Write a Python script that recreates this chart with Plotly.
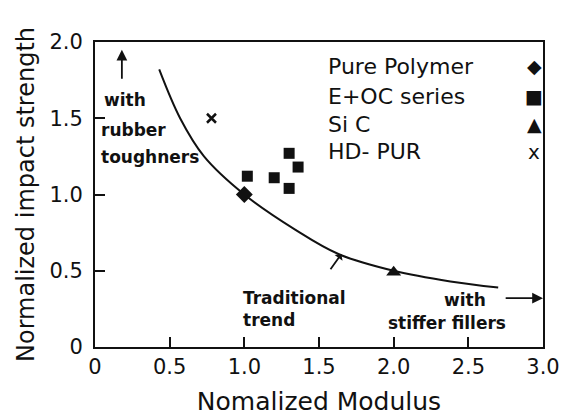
import plotly.graph_objects as go

# data
pure_x = [1.0]
pure_y = [1.0]

eoc_x = [1.02, 1.2, 1.3, 1.36, 1.3]
eoc_y = [1.12, 1.11, 1.27, 1.18, 1.04]

sic_x = [2.0]
sic_y = [0.49]

hdpur_x = [0.78]
hdpur_y = [1.5]

# traditional trend curve
trend_x = [0.43, 0.57, 0.73, 1.0, 1.34, 1.63, 2.0, 2.38, 2.7]
trend_y = [1.82, 1.5, 1.25, 1.0, 0.77, 0.61, 0.5, 0.43, 0.39]

legend_names = ["Pure Polymer", "E+OC series", "Si C", "HD- PUR"]
legend_glyphs = ["◆", "■", "▲", "x"]
legend_rows = [1.84, 1.645, 1.46, 1.28]

tick_vals = [0, 0.5, 1.0, 1.5, 2.0, 2.5, 3.0]
tick_text = ["0", "0.5", "1.0", "1.5", "2.0", "2.5", "3.0"]
ytick_vals = [0, 0.5, 1.0, 1.5, 2.0]
ytick_text = ["0", "0.5", "1.0", "1.5", "2.0"]

FONT = "DejaVu Sans"
INK = "#111111"


def note(fig, x, y, text, anchor="left"):
    fig.add_annotation(x=x, y=y, text=text, showarrow=False, xanchor=anchor,
                       font=dict(family=FONT, size=17, color=INK, weight="bold"))


def arrow(fig, x0, y0, x1, y1, head=2, size=1.2):
    fig.add_annotation(x=x1, y=y1, ax=x0, ay=y0, xref="x", yref="y", axref="x", ayref="y",
                       text="", showarrow=True, arrowhead=head, arrowsize=size,
                       arrowwidth=1.8, arrowcolor=INK)


fig = go.Figure()

fig.add_trace(go.Scatter(x=trend_x, y=trend_y, mode="lines",
                         line=dict(color=INK, width=2, shape="spline", smoothing=1.0),
                         showlegend=False, hoverinfo="skip"))
fig.add_trace(go.Scatter(x=pure_x, y=pure_y, mode="markers", name="Pure Polymer",
                         marker=dict(symbol="diamond", size=13, color=INK)))
fig.add_trace(go.Scatter(x=eoc_x, y=eoc_y, mode="markers", name="E+OC series",
                         marker=dict(symbol="square", size=11, color=INK)))
fig.add_trace(go.Scatter(x=sic_x, y=sic_y, mode="markers", name="SiC",
                         marker=dict(symbol="triangle-up", size=13, color=INK)))
fig.add_trace(go.Scatter(x=hdpur_x, y=hdpur_y, mode="markers", name="HD-PUR",
                         marker=dict(symbol="x-thin", size=9, color=INK,
                                     line=dict(color=INK, width=2.5))))

# legend drawn as text, symbols on the right like the original
for name, glyph, yy in zip(legend_names, legend_glyphs, legend_rows):
    fig.add_annotation(x=1.55, y=yy, text=name, showarrow=False, xanchor="left",
                       font=dict(family=FONT, size=22, color=INK))
    fig.add_annotation(x=2.94, y=yy, text=glyph, showarrow=False, xanchor="center",
                       font=dict(family=FONT, size=19 if glyph != "x" else 20, color=INK))

# rubber toughners note with up arrow
arrow(fig, 0.18, 1.75, 0.18, 1.95)
note(fig, 0.05, 1.62, "with")
note(fig, 0.03, 1.42, "rubber")
note(fig, 0.03, 1.245, "toughners")

# traditional trend pointer
arrow(fig, 1.57, 0.5, 1.65, 0.61, head=1, size=0.9)
note(fig, 0.98, 0.32, "Traditional")
note(fig, 0.98, 0.18, "trend")

# stiffer fillers note with right arrow
arrow(fig, 2.74, 0.32, 3.0, 0.32)
note(fig, 2.48, 0.31, "with", anchor="center")
note(fig, 2.36, 0.16, "stiffer fillers", anchor="center")

axis_common = dict(showgrid=False, zeroline=False, showline=True, linecolor=INK,
                   linewidth=2, mirror=True, ticks="inside", ticklen=10, tickwidth=1.8,
                   tickcolor=INK, tickfont=dict(family=FONT, size=21, color=INK),
                   automargin=False)

fig.update_xaxes(range=[0, 3.0], tickvals=tick_vals, ticktext=tick_text,
                 title=dict(text="Nomalized Modulus", font=dict(family=FONT, size=25, color=INK),
                            standoff=14),
                 **axis_common)
fig.update_yaxes(range=[0, 2.0], tickvals=ytick_vals, ticktext=ytick_text,
                 ticklabelstandoff=6,
                 title=dict(text="Normalized impact strength",
                            font=dict(family=FONT, size=24, color=INK),
                            standoff=8),
                 **axis_common)

# page body has an 8px margin, so the figure is 8px smaller each way
fig.update_layout(width=559, height=411, showlegend=False,
                  paper_bgcolor="white", plot_bgcolor="white",
                  margin=dict(l=87, r=24, t=34, b=72))

fig.write_html("out.html")
